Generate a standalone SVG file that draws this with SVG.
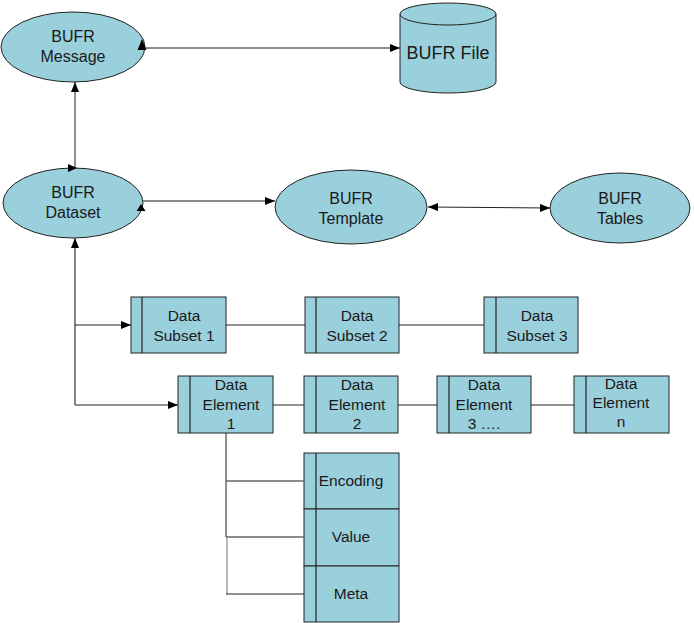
<svg xmlns="http://www.w3.org/2000/svg" width="694" height="623" viewBox="0 0 694 623">
<defs>
<style>
.sh{fill:#9ACFDC;stroke:#222;stroke-width:1}
.in{stroke:#222;stroke-width:1.2;fill:none}
text{font-family:"Liberation Sans",Arial,sans-serif;font-size:15.5px;fill:#1a1a1a;text-anchor:middle}
.big{font-size:18px}
.el{font-size:16px}
.c{stroke:#222;stroke-width:1;fill:none}
.g{stroke:#666;stroke-width:1.6;fill:none}
.ah{fill:#000}
</style>
<marker id="a" viewBox="0 0 10 8" refX="10" refY="4" markerWidth="10" markerHeight="8" markerUnits="userSpaceOnUse" orient="auto-start-reverse"><path d="M0,0L10,4L0,8z" fill="#000"/></marker>
</defs>
<g id="bufr-message">
<ellipse class="sh" cx="73" cy="47" rx="72" ry="35"/>
<text class="el" x="73" y="42">BUFR</text><text class="el" x="73" y="62">Message</text>
</g>
<g id="bufr-file">
<path class="sh" d="M400,14 L400,82 A48,11 0 0 0 496,82 L496,14"/>
<ellipse class="sh" cx="448" cy="14" rx="48" ry="11"/>
<text class="big" x="448" y="59">BUFR File</text>
</g>
<g id="bufr-dataset">
<ellipse class="sh" cx="73" cy="203" rx="70" ry="35"/>
<text class="el" x="73" y="198">BUFR</text><text class="el" x="73" y="218">Dataset</text>
</g>
<g id="bufr-template">
<ellipse class="sh" cx="351" cy="207" rx="76" ry="37"/>
<text class="el" x="351" y="204">BUFR</text><text class="el" x="351" y="224">Template</text>
</g>
<g id="bufr-tables">
<ellipse class="sh" cx="620" cy="208" rx="70" ry="35"/>
<text class="el" x="620" y="204">BUFR</text><text class="el" x="620" y="224">Tables</text>
</g>
<g id="subset-1">
<rect class="sh" x="131" y="297" width="95" height="56"/><line class="in" x1="142" y1="297" x2="142" y2="353"/>
<text x="184" y="321">Data</text><text x="184" y="341">Subset 1</text>
</g>
<g id="subset-2">
<rect class="sh" x="305" y="297" width="94" height="56"/><line class="in" x1="316" y1="297" x2="316" y2="353"/>
<text x="357" y="321">Data</text><text x="357" y="341">Subset 2</text>
</g>
<g id="subset-3">
<rect class="sh" x="484" y="297" width="94" height="56"/><line class="in" x1="496" y1="297" x2="496" y2="353"/>
<text x="537" y="321">Data</text><text x="537" y="341">Subset 3</text>
</g>
<g id="element-1">
<rect class="sh" x="178" y="376" width="95" height="57"/><line class="in" x1="190" y1="376" x2="190" y2="433"/>
<text x="231" y="390">Data</text><text x="231" y="410">Element</text><text x="231" y="429">1</text>
</g>
<g id="element-2">
<rect class="sh" x="304" y="376" width="94" height="57"/><line class="in" x1="316" y1="376" x2="316" y2="433"/>
<text x="357" y="390">Data</text><text x="357" y="410">Element</text><text x="357" y="429">2</text>
</g>
<g id="element-3">
<rect class="sh" x="437" y="376" width="94" height="57"/><line class="in" x1="449" y1="376" x2="449" y2="433"/>
<text x="484" y="390">Data</text><text x="484" y="410">Element</text><text x="484" y="429">3 ….</text>
</g>
<g id="element-n">
<rect class="sh" x="574" y="376" width="95" height="57"/><line class="in" x1="586" y1="376" x2="586" y2="433"/>
<text x="621" y="389">Data</text><text x="621" y="408">Element</text><text x="621" y="427">n</text>
</g>
<g id="encoding">
<rect class="sh" x="304" y="453" width="95" height="56"/><line class="in" x1="316" y1="453" x2="316" y2="509"/>
<text x="351" y="486">Encoding</text>
</g>
<g id="value">
<rect class="sh" x="304" y="509" width="95" height="57"/><line class="in" x1="316" y1="509" x2="316" y2="566"/>
<text x="351" y="542">Value</text>
</g>
<g id="meta">
<rect class="sh" x="304" y="566" width="95" height="56"/><line class="in" x1="316" y1="566" x2="316" y2="622"/>
<text x="351" y="599">Meta</text>
</g>
<g id="connectors">
<line class="g" x1="146" y1="48" x2="400" y2="48" marker-end="url(#a)"/>
<path class="ah" d="M142,39 L146.5,50 L137.5,50 z"/>
<line class="c" x1="75" y1="168" x2="75" y2="82" marker-end="url(#a)"/>
<path class="ah" d="M77,168 L68,164 L68,172 z"/>
<line class="g" x1="143" y1="201" x2="275" y2="201" marker-end="url(#a)"/>
<path class="ah" d="M141,204 L145.5,211 L136.5,211 z"/>
<line class="c" x1="428" y1="207" x2="550" y2="208" marker-start="url(#a)" marker-end="url(#a)"/>
<line class="g" x1="75" y1="405" x2="75" y2="238" marker-end="url(#a)"/>
<line class="c" x1="75" y1="325" x2="131" y2="325" marker-end="url(#a)"/>
<line class="c" x1="75" y1="405" x2="178" y2="405" marker-end="url(#a)"/>
<line class="c" x1="226" y1="325" x2="305" y2="325"/>
<line class="c" x1="399" y1="325" x2="484" y2="325"/>
<line class="c" x1="273" y1="405" x2="304" y2="405"/>
<line class="c" x1="398" y1="405" x2="437" y2="405"/>
<line class="c" x1="531" y1="405" x2="574" y2="405"/>
<line class="c" x1="226" y1="433" x2="226" y2="537"/>
<line x1="227" y1="537" x2="227" y2="594" style="stroke:#777;stroke-width:1"/>
<line class="g" x1="226" y1="481" x2="304" y2="481"/>
<line class="g" x1="226" y1="537" x2="304" y2="537"/>
<line class="c" x1="226" y1="594" x2="304" y2="594"/>
</g>
</svg>
